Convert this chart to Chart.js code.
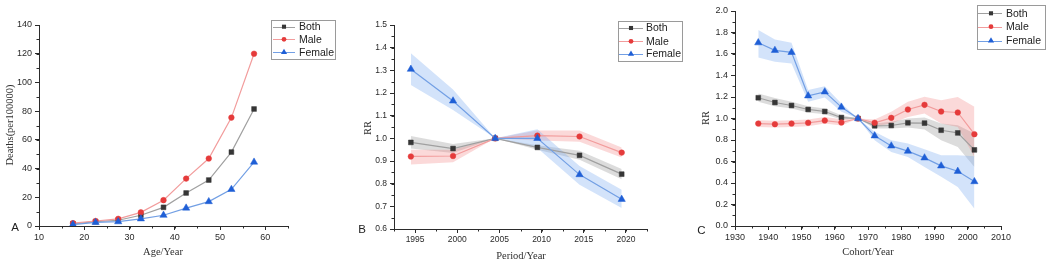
<!DOCTYPE html>
<html lang="en">
<head>
<meta charset="UTF-8" />
<title>Age, period and cohort effects</title>
<script src="https://cdn.jsdelivr.net/npm/chart.js@4"></script>
<style>
  body { margin: 0; background: #fff; }
  #wrap { position: relative; width: 1049px; height: 268px; overflow: hidden; }
  canvas { position: absolute; top: 0; }
</style>
</head>
<body>
<div id="wrap">
  <canvas id="chartA" width="350" height="268" style="left:0"></canvas>
  <canvas id="chartB" width="340" height="268" style="left:350px"></canvas>
  <canvas id="chartC" width="359" height="268" style="left:690px"></canvas>
</div>

<script>
// ---- A: age effect (deaths per 100000)
const ageX = [17.5, 22.5, 27.5, 32.5, 37.5, 42.5, 47.5, 52.5, 57.5];
const ageBoth = [1.5, 3, 4, 7.5, 13, 23, 32, 51.5, 81.5];
const ageMale = [2, 3.5, 5, 9.5, 18, 33, 47, 75.5, 120];
const ageFemale = [1, 2.5, 3, 5, 7.5, 12.5, 17, 25.5, 44.5];
const ageTicksX = [10, 20, 30, 40, 50, 60];
const ageTicksY = [0, 20, 40, 60, 80, 100, 120, 140];

// ---- B: period effect (RR with 95% band)
const periodX = [1994.5, 1999.5, 2004.5, 2009.5, 2014.5, 2019.5];
const periodBoth = [0.982, 0.955, 1.0, 0.96, 0.925, 0.842];
const periodBothLo = [0.955, 0.935, 1.0, 0.95, 0.905, 0.82];
const periodBothHi = [1.01, 0.975, 1.0, 0.97, 0.945, 0.865];
const periodMale = [0.92, 0.922, 1.0, 1.012, 1.008, 0.937];
const periodMaleLo = [0.885, 0.895, 1.0, 0.99, 0.985, 0.915];
const periodMaleHi = [0.95, 0.95, 1.0, 1.035, 1.035, 0.96];
const periodFemale = [1.305, 1.165, 1.0, 1.0, 0.84, 0.731];
const periodFemaleLo = [1.235, 1.125, 1.0, 0.957, 0.795, 0.693];
const periodFemaleHi = [1.375, 1.215, 1.0, 1.04, 0.878, 0.773];
const periodTicksX = [1995, 2000, 2005, 2010, 2015, 2020];
const periodTicksY = [0.6, 0.7, 0.8, 0.9, 1.0, 1.1, 1.2, 1.3, 1.4, 1.5];

// ---- C: cohort effect (RR with 95% band)
const cohortX = [1937, 1942, 1947, 1952, 1957, 1962, 1967, 1972, 1977, 1982, 1987, 1992, 1997, 2002];
const cohortBoth = [1.193, 1.149, 1.121, 1.084, 1.065, 1.009, 1.0, 0.932, 0.935, 0.96, 0.957, 0.891, 0.866, 0.708];
const cohortBothLo = [1.155, 1.115, 1.093, 1.056, 1.04, 0.99, 1.0, 0.907, 0.907, 0.916, 0.898, 0.798, 0.736, 0.55];
const cohortBothHi = [1.233, 1.19, 1.155, 1.115, 1.093, 1.03, 1.0, 0.953, 0.969, 1.0, 1.01, 0.953, 0.938, 0.86];
const cohortMale = [0.953, 0.947, 0.953, 0.96, 0.981, 0.963, 1.0, 0.96, 1.006, 1.084, 1.127, 1.065, 1.056, 0.854];
const cohortMaleLo = [0.922, 0.916, 0.922, 0.929, 0.953, 0.935, 1.0, 0.929, 0.953, 1.015, 1.047, 0.953, 0.922, 0.643];
const cohortMaleHi = [0.984, 0.978, 0.984, 0.99, 1.015, 0.994, 1.0, 0.99, 1.062, 1.155, 1.202, 1.17, 1.2, 1.109];
const cohortFemale = [1.705, 1.634, 1.615, 1.211, 1.248, 1.106, 1.0, 0.839, 0.745, 0.696, 0.634, 0.559, 0.509, 0.413];
const cohortFemaleLo = [1.568, 1.528, 1.512, 1.155, 1.196, 1.062, 1.0, 0.798, 0.689, 0.643, 0.55, 0.457, 0.363, 0.161];
const cohortFemaleHi = [1.823, 1.736, 1.705, 1.264, 1.301, 1.14, 1.0, 0.876, 0.798, 0.767, 0.714, 0.658, 0.658, 0.649];
const cohortTicksX = [1930, 1940, 1950, 1960, 1970, 1980, 1990, 2000, 2010];
const cohortTicksY = [0.0, 0.2, 0.4, 0.6, 0.8, 1.0, 1.2, 1.4, 1.6, 1.8, 2.0];

const seriesNames = ['Both', 'Male', 'Female'];

const axisColor = '#2b2b2b';
const sansFont = '"Liberation Sans", Arial, sans-serif';
const serifFont = '"Liberation Serif", "Times New Roman", serif';

const styles = {
  Both:   { marker: 'rect',     color: '#363636', line: '#a0a0a0', band: 'rgba(140,140,140,0.30)', r: 3.4, order: 2 },
  Male:   { marker: 'circle',   color: '#e53b3b', line: '#f29c9c', band: 'rgba(240,120,120,0.28)', r: 2.8, order: 1 },
  Female: { marker: 'triangle', color: '#1f5fd6', line: '#729fe4', band: 'rgba(120,170,240,0.33)', r: 4.2, order: 0 }
};

function drawMarker(ctx, type, x, y, r) {
  ctx.beginPath();
  if (type === 'rect') {
    const s = r * Math.SQRT1_2;
    ctx.rect(x - s, y - s, 2 * s, 2 * s);
  } else if (type === 'circle') {
    ctx.arc(x, y, r, 0, Math.PI * 2);
  } else {
    ctx.moveTo(x, y - r);
    ctx.lineTo(x + r * 0.866, y + r / 2);
    ctx.lineTo(x - r * 0.866, y + r / 2);
    ctx.closePath();
  }
  ctx.fill();
}

// small outward ticks between the labelled ones
function minorTicksPlugin(xStep, yStep) {
  return {
    id: 'minorTicks',
    afterDraw(chart) {
      const { ctx, chartArea: a, scales } = chart;
      ctx.save();
      ctx.strokeStyle = axisColor;
      ctx.lineWidth = 1;
      ctx.beginPath();
      const xs = scales.x, ys = scales.y;
      for (let i = Math.ceil(xs.min / xStep - 1e-9); i * xStep <= xs.max + 1e-9; i++) {
        const px = Math.round(xs.getPixelForValue(i * xStep)) + 0.5;
        ctx.moveTo(px, a.bottom);
        ctx.lineTo(px, a.bottom + 2.5);
      }
      for (let i = Math.ceil(ys.min / yStep - 1e-9); i * yStep <= ys.max + 1e-9; i++) {
        const py = Math.round(ys.getPixelForValue(i * yStep)) + 0.5;
        ctx.moveTo(a.left, py);
        ctx.lineTo(a.left - 2.5, py);
      }
      ctx.stroke();
      ctx.restore();
    }
  };
}

// axis titles and the panel letter
function panelTextPlugin(t) {
  return {
    id: 'panelText',
    afterDraw(chart) {
      const ctx = chart.ctx;
      ctx.save();
      ctx.fillStyle = '#2e2e2e';
      ctx.textAlign = 'center';
      ctx.textBaseline = 'middle';
      ctx.font = '10.5px ' + serifFont;
      ctx.fillText(t.xTitle, t.xAt[0], t.xAt[1]);
      ctx.save();
      ctx.translate(t.yAt[0], t.yAt[1]);
      ctx.rotate(-Math.PI / 2);
      ctx.fillText(t.yTitle, 0, 0);
      ctx.restore();
      ctx.font = '11.5px ' + sansFont;
      ctx.fillStyle = '#222';
      ctx.fillText(t.letter, t.letterAt[0], t.letterAt[1]);
      ctx.restore();
    }
  };
}

// boxed legend with line + marker samples
function boxLegendPlugin(p) {
  return {
    id: 'boxLegend',
    afterDraw(chart) {
      const ctx = chart.ctx;
      ctx.save();
      ctx.strokeStyle = '#9a9a9a';
      ctx.lineWidth = 1;
      ctx.strokeRect(p.box[0] + 0.5, p.box[1] + 0.5, p.box[2], p.box[3]);
      ctx.font = '10.5px ' + sansFont;
      ctx.textBaseline = 'middle';
      ctx.textAlign = 'left';
      seriesNames.forEach((name, i) => {
        const st = styles[name];
        const y = p.rows[i];
        ctx.strokeStyle = st.line;
        ctx.beginPath();
        ctx.moveTo(p.line[0], Math.round(y) + 0.5);
        ctx.lineTo(p.line[1], Math.round(y) + 0.5);
        ctx.stroke();
        ctx.fillStyle = st.color;
        drawMarker(ctx, st.marker, p.mark, y, st.r * 0.85);
        ctx.fillStyle = '#222';
        ctx.fillText(name, p.text, y + 0.5);
      });
      ctx.restore();
    }
  };
}

function buildChart(id, cfg) {
  const datasets = [];
  cfg.series.forEach((s, k) => {
    const st = styles[seriesNames[k]];
    datasets.push({
      label: seriesNames[k],
      data: cfg.x.map((v, i) => ({ x: v, y: s.y[i] })),
      borderColor: st.line,
      borderWidth: 1.2,
      pointStyle: st.marker,
      pointRadius: st.r,
      pointBackgroundColor: st.color,
      pointBorderColor: st.color,
      pointBorderWidth: 0.5,
      fill: false,
      tension: 0,
      order: st.order
    });
  });
  cfg.series.forEach((s, k) => {
    if (!s.lo) return;
    const st = styles[seriesNames[k]];
    datasets.push({
      label: seriesNames[k] + ' lower',
      data: cfg.x.map((v, i) => ({ x: v, y: s.lo[i] })),
      borderWidth: 0, pointRadius: 0, fill: false, order: 10 + st.order
    });
    datasets.push({
      label: seriesNames[k] + ' upper',
      data: cfg.x.map((v, i) => ({ x: v, y: s.hi[i] })),
      borderWidth: 0, pointRadius: 0, fill: '-1',
      backgroundColor: st.band, order: 10 + st.order
    });
  });

  const tickFont = { family: sansFont, size: cfg.tickSize };
  const grid = { display: true, drawOnChartArea: false, drawTicks: true, tickLength: 4, color: axisColor, lineWidth: 1 };
  const border = { display: true, color: axisColor, width: 1 };

  new Chart(document.getElementById(id), {
    type: 'line',
    data: { datasets },
    options: {
      responsive: false,
      animation: false,
      events: [],
      layout: { padding: { left: 0, top: cfg.area.top, right: cfg.width - cfg.area.right, bottom: 0 } },
      plugins: { legend: { display: false }, tooltip: { enabled: false } },
      scales: {
        x: {
          type: 'linear', min: cfg.xRange[0], max: cfg.xRange[1],
          afterBuildTicks: sc => { sc.ticks = cfg.xTicks.map(v => ({ value: v })); },
          afterFit: sc => { sc.height = 268 - cfg.area.bottom; },
          grid, border,
          ticks: { font: tickFont, color: '#2a2a2a', padding: 2, maxRotation: 0, autoSkip: false, callback: v => String(v) }
        },
        y: {
          type: 'linear', min: cfg.yRange[0], max: cfg.yRange[1],
          afterBuildTicks: sc => { sc.ticks = cfg.yTicks.map(v => ({ value: v })); },
          afterFit: sc => { sc.width = cfg.area.left; },
          grid, border,
          ticks: { font: tickFont, color: '#2a2a2a', padding: 3, autoSkip: false, callback: v => v.toFixed(cfg.yDecimals) }
        }
      }
    },
    plugins: [minorTicksPlugin(cfg.minor[0], cfg.minor[1]), panelTextPlugin(cfg.text), boxLegendPlugin(cfg.legend)]
  });
}

buildChart('chartA', {
  width: 350, area: { left: 39, right: 288, top: 25, bottom: 226 },
  x: ageX, xRange: [10, 65], yRange: [0, 140], xTicks: ageTicksX, yTicks: ageTicksY,
  yDecimals: 0, minor: [5, 10], tickSize: 9,
  series: [{ y: ageBoth }, { y: ageMale }, { y: ageFemale }],
  text: { xTitle: 'Age/Year', xAt: [163, 252], yTitle: 'Deaths(per100000)', yAt: [10, 125], letter: 'A', letterAt: [15, 228] },
  legend: { box: [271, 20, 64, 39], rows: [26.7, 39.3, 52.3], line: [273, 295], mark: 284, text: 299 }
});

buildChart('chartB', {
  width: 340, area: { left: 44, right: 297, top: 25, bottom: 229 },
  x: periodX, xRange: [1992.5, 2022.5], yRange: [0.6, 1.5], xTicks: periodTicksX, yTicks: periodTicksY,
  yDecimals: 1, minor: [2.5, 0.05], tickSize: 8.5,
  series: [
    { y: periodBoth, lo: periodBothLo, hi: periodBothHi },
    { y: periodMale, lo: periodMaleLo, hi: periodMaleHi },
    { y: periodFemale, lo: periodFemaleLo, hi: periodFemaleHi }
  ],
  text: { xTitle: 'Period/Year', xAt: [171, 256], yTitle: 'RR', yAt: [18, 128], letter: 'B', letterAt: [12, 230] },
  legend: { box: [268, 21, 64, 40], rows: [28, 41.3, 54], line: [269, 293], mark: 281, text: 296 }
});

buildChart('chartC', {
  width: 359, area: { left: 45, right: 311, top: 11, bottom: 226 },
  x: cohortX, xRange: [1930, 2010], yRange: [0, 2.0], xTicks: cohortTicksX, yTicks: cohortTicksY,
  yDecimals: 1, minor: [5, 0.1], tickSize: 9,
  series: [
    { y: cohortBoth, lo: cohortBothLo, hi: cohortBothHi },
    { y: cohortMale, lo: cohortMaleLo, hi: cohortMaleHi },
    { y: cohortFemale, lo: cohortFemaleLo, hi: cohortFemaleHi }
  ],
  text: { xTitle: 'Cohort/Year', xAt: [178, 252], yTitle: 'RR', yAt: [16, 118], letter: 'C', letterAt: [11.5, 231] },
  legend: { box: [287, 5, 68, 44], rows: [13.3, 26.7, 40.7], line: [288, 312], mark: 301, text: 316 }
});
</script>
</body>
</html>
